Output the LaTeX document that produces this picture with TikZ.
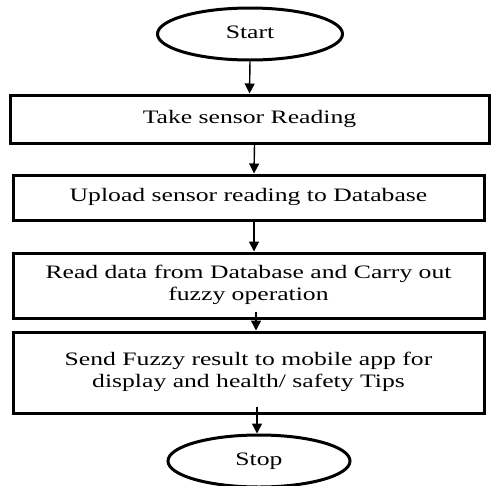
\documentclass[tikz,border=0pt]{standalone}
\usepackage{fontspec}
\usepackage{graphicx}
\setmainfont{Liberation Serif}
\usetikzlibrary{shapes.geometric,arrows.meta}
% widened serif lettering used in every node
\newcommand{\widetext}[1]{\scalebox{1.35}[1]{\begin{tabular}{@{}c@{}}#1\end{tabular}}}
\begin{document}
\begin{tikzpicture}[x=1pt,y=-1pt,
  stepbox/.style={draw, line width=3pt, inner sep=0pt, font=\fontsize{19}{22}\selectfont},
  terminal/.style={draw, ellipse, line width=3pt, minimum width=185pt, minimum height=52pt,
    inner sep=0pt, font=\fontsize{19}{22}\selectfont},
  flow/.style={line width=1.4pt, -{Triangle[length=10pt,width=10pt]}}]
\useasboundingbox (0,0) rectangle (495,485);
\clip (0,0) rectangle (495,485);

\node[terminal] (start) at (250,34) {\widetext{Start}};
\node[stepbox, minimum width=479pt, minimum height=48pt] (read) at (249.5,119)
  {\widetext{Take sensor Reading}};
\node[stepbox, minimum width=471pt, minimum height=45pt] (upload) at (248.5,197.5)
  {\widetext{Upload sensor reading to Database}};
\node[stepbox, minimum width=471pt, minimum height=65pt] (fuzzy) at (248.5,285.5)
  {\widetext{Read data from Database and Carry out\\ fuzzy operation}};
\node[stepbox, minimum width=471pt, minimum height=81pt] (send) at (248.5,372.5)
  {\widetext{Send Fuzzy result to mobile app for\\ display and health/ safety Tips}};
\node[terminal, minimum width=182pt] (stop) at (259,461) {\widetext{Stop}};

\draw[flow] (start.south) -- (read.north);
\draw[flow] ([xshift=5pt]read.south) -- ([xshift=5.5pt]upload.north);
\draw[flow] ([xshift=5.5pt]upload.south) -- ([xshift=5.5pt]fuzzy.north);
\draw[flow] ([xshift=7.5pt,yshift=8pt]fuzzy.south) -- ([xshift=7.5pt]send.north);
\draw[flow] ([xshift=8.5pt,yshift=8pt]send.south) -- ([xshift=-2pt]stop.north);
\end{tikzpicture}
\end{document}
